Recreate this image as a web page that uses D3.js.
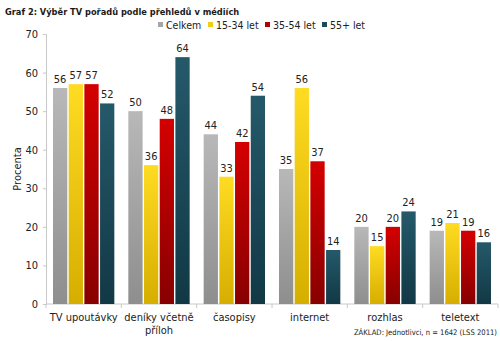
<!DOCTYPE html>
<html><head><meta charset="utf-8">
<script src="https://cdn.jsdelivr.net/npm/d3@7/dist/d3.min.js"></script>
<style>body{margin:0;background:#fff}svg{display:block}text{font-family:"DejaVu Sans Condensed","DejaVu Sans",sans-serif}</style>
</head><body><svg id="c" width="500" height="341"></svg>
<script>
const categories = [["TV upoutávky"],["deníky včetně","příloh"],["časopisy"],["internet"],["rozhlas"],["teletext"]];
const seriesNames = ["Celkem","15-34 let","35-54 let","55+ let"];
const celkem = [56,50,44,35,20,19];
const age1534 = [57,36,33,56,15,21];
const age3554 = [57,48,42,37,20,19];
const age55 = [52,64,54,14,24,16];
const yTicks = [0,10,20,30,40,50,60,70];
const seriesValues = [celkem, age1534, age3554, age55];
const colors = [["#b8b8b8","#8e8e8e"],["#ffdb22","#d6ae00"],["#d40000","#880000"],["#25596a","#123845"]];
const legendColors = ["#a6a6a6","#f2cd1a","#b00000","#1d4a57"];

const svg = d3.select("#c");
const pL=46, pR=498, pT=34, pB=304;
const x0 = d3.scaleBand().domain(d3.range(categories.length)).range([pL,pR]).paddingInner(0).paddingOuter(0);
const x1 = d3.scaleBand().domain(d3.range(seriesNames.length)).range([7, x0.bandwidth()-7]).paddingInner(0.09);
const y = d3.scaleLinear().domain([0,70]).range([pB,pT]);

const defs = svg.append("defs");
colors.forEach((c,i)=>{
  const g = defs.append("linearGradient").attr("id","g"+i).attr("x1","0").attr("x2","0").attr("y1","0").attr("y2","1");
  g.append("stop").attr("offset","0").attr("stop-color",c[0]);
  g.append("stop").attr("offset","1").attr("stop-color",c[1]);
});

svg.append("text").attr("x",5).attr("y",15).attr("font-weight","bold").attr("font-size",9.2).attr("fill","#1a1a1a")
  .text("Graf 2: Výběr TV pořadů podle přehledů v médiích");

// y axis
const ya = svg.append("g").attr("transform",`translate(${pL},0)`).call(d3.axisLeft(y).tickValues(yTicks).tickSize(3).tickPadding(5));
ya.select(".domain").attr("stroke","#c8c8c8");
ya.selectAll(".tick line").attr("stroke","#c8c8c8");
ya.selectAll("text").attr("font-size",11).attr("fill","#222").style("font-family",'"DejaVu Sans Condensed","DejaVu Sans",sans-serif');

svg.append("text").attr("transform",`translate(21,${(pT+pB)/2}) rotate(-90)`).attr("text-anchor","middle")
  .attr("font-size",11).attr("fill","#222").text("Procenta");

// x axis
const xa = svg.append("g").attr("transform",`translate(0,${pB})`);
xa.append("line").attr("x1",pL).attr("x2",pR).attr("stroke","#c8c8c8");
d3.range(categories.length+1).forEach(i=>{
  const xx = i<categories.length ? x0(i) : pR;
  xa.append("line").attr("x1",xx).attr("x2",xx).attr("y1",0).attr("y2",4).attr("stroke","#c8c8c8");
});
categories.forEach((lines,i)=>{
  const t = svg.append("text").attr("text-anchor","middle").attr("font-size",11).attr("fill","#222");
  lines.forEach((l,j)=>t.append("tspan").attr("x",x0(i)+x0.bandwidth()/2).attr("y",321+j*12.5).text(l));
});

// bars
seriesValues.forEach((vals,s)=>{
  svg.append("g").selectAll("rect").data(vals).join("rect")
    .attr("x",(d,i)=>x0(i)+x1(s)).attr("width",x1.bandwidth())
    .attr("y",d=>y(d)).attr("height",d=>pB-y(d))
    .attr("fill",`url(#g${s})`);
  svg.append("g").selectAll("text").data(vals).join("text")
    .attr("x",(d,i)=>x0(i)+x1(s)+x1.bandwidth()/2).attr("y",d=>y(d)-5)
    .attr("text-anchor","middle").attr("font-size",11).attr("fill","#222").text(d=>d);
});

// legend
const legX = [158,208,265,322];
seriesNames.forEach((n,i)=>{
  svg.append("rect").attr("x",legX[i]).attr("y",22).attr("width",5).attr("height",5).attr("fill",legendColors[i]);
  svg.append("text").attr("x",legX[i]+8).attr("y",29).attr("font-size",10.5).attr("fill","#222").text(n);
});

svg.append("text").attr("x",497).attr("y",335).attr("text-anchor","end").attr("font-size",7.6).attr("fill","#222")
  .text("ZÁKLAD: Jednotlivci, n = 1642 (LSS 2011)");
</script></body></html>
